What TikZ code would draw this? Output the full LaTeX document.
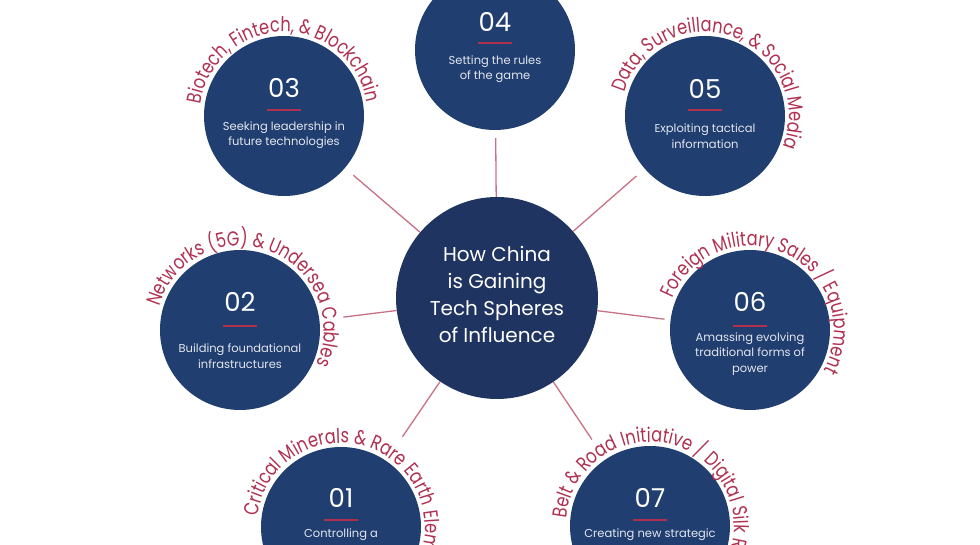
\documentclass[tikz,border=0pt]{standalone}
\usepackage{fontspec}
\setmainfont{Poppins}
\newfontfamily\arcfamily[FakeStretch=0.8]{Poppins}
\usepackage{tikz}
\usetikzlibrary{calc, positioning, decorations.text}
\definecolor{navy}{RGB}{33,62,112}
\definecolor{hubnavy}{RGB}{31,52,96}
\definecolor{rosered}{RGB}{176,48,80}
\definecolor{spokecol}{RGB}{200,112,132}
\definecolor{desccol}{RGB}{226,230,238}
\newcommand{\arcfont}{\color{rosered}\arcfamily\fontsize{20.3}{20}\selectfont}
\tikzstyle{sphere}=[circle, fill=navy, minimum size=160pt, inner sep=0pt]
\tikzstyle{hubc}=[circle, fill=hubnavy, minimum size=202pt, inner sep=0pt]
\tikzstyle{hubtxt}=[text=white, inner sep=0pt, align=center, font=\fontsize{20}{27}\selectfont]
\tikzstyle{numtxt}=[text=white, inner sep=0pt, font=\fontsize{26}{26}\selectfont]
\tikzstyle{desctxt}=[text=desccol, inner sep=0pt, align=center, font=\fontsize{11.5}{15.5}\selectfont]
\tikzstyle{bar}=[fill=rosered, inner sep=0pt, minimum width=34pt, minimum height=2pt]
\tikzstyle{spoke}=[draw=spokecol, line width=1.3pt]
\tikzstyle{arclbl}=[decorate, decoration={text along path, text align=left}]

\begin{document}
\begin{tikzpicture}[x=1pt, y=1pt]
\useasboundingbox (0,0) rectangle (980,545);
\clip (0,0) rectangle (980,545);
% the central hub
\node[hubc] (hub) at (497,247) {};
\node[hubtxt] (title) at ($(hub)+(0,4)$) {How China\\is Gaining\\Tech Spheres\\of Influence};
% the seven spheres
\node[sphere] (s1) at (341,18) {};
\node[sphere] (s2) at (240,215) {};
\node[sphere] (s3) at (284,429) {};
\node[sphere] (s4) at (495,495) {};
\node[sphere] (s5) at (705,429) {};
\node[sphere] (s6) at (750,215) {};
\node[sphere] (s7) at (650,19) {};
% the spokes
\draw[spoke, shorten >=29pt] (hub) -- (s1);
\draw[spoke, shorten >=24pt] (hub) -- (s2);
\draw[spoke, shorten >=11pt] (hub) -- (s3);
\draw[spoke, shorten >=8pt] (hub) -- (s4);
\draw[spoke, shorten >=11pt] (hub) -- (s5);
\draw[spoke, shorten >=6pt] (hub) -- (s6);
\draw[spoke, shorten >=24pt] (hub) -- (s7);
% numbers, bars and texts inside the spheres
\node[numtxt] (n1) at ($(s1)+(0,29)$) {01};
\node[bar] (b1) at ($(s1)+(0,7)$) {};
\node[desctxt] (d1) at ($(s1)+(0,-8)$) {Controlling a};
\node[numtxt] (n2) at ($(s2)+(0,28)$) {02};
\node[bar] (b2) at ($(s2)+(0,4)$) {};
\node[desctxt] (d2) at ($(s2)+(0,-26)$) {Building foundational\\infrastructures};
\node[numtxt] (n3) at ($(s3)+(0,28)$) {03};
\node[bar] (b3) at ($(s3)+(0,6)$) {};
\node[desctxt] (d3) at ($(s3)+(0,-19)$) {Seeking leadership in\\future technologies};
\node[numtxt] (n4) at ($(s4)+(0,28)$) {04};
\node[bar] (b4) at ($(s4)+(0,7)$) {};
\node[desctxt] (d4) at ($(s4)+(0,-19)$) {Setting the rules\\of the game};
\node[numtxt] (n5) at ($(s5)+(0,27)$) {05};
\node[bar] (b5) at ($(s5)+(0,6)$) {};
\node[desctxt] (d5) at ($(s5)+(0,-20)$) {Exploiting tactical\\information};
\node[numtxt] (n6) at ($(s6)+(0,28)$) {06};
\node[bar] (b6) at ($(s6)+(0,4)$) {};
\node[desctxt] (d6) at ($(s6)+(0,-24)$) {Amassing evolving\\traditional forms of\\power};
\node[numtxt] (n7) at ($(s7)+(0,28)$) {07};
\node[bar] (b7) at ($(s7)+(0,6)$) {};
\node[desctxt] (d7) at ($(s7)+(0,-9)$) {Creating new strategic};
% the curved titles
\path[arclbl, decoration={text={|\arcfont|Critical Minerals {\&} Rare Earth Elements}}] ($(s1)+(173:84)$) arc[start angle=173, end angle=-100, radius=84];
\path[arclbl, decoration={text={|\arcfont|Networks (5G) {\&} Undersea Cables}}] ($(s2)+(164:84)$) arc[start angle=164, end angle=-100, radius=84];
\path[arclbl, decoration={text={|\arcfont|Biotech, Fintech, {\&} Blockchain}}] ($(s3)+(172:84)$) arc[start angle=172, end angle=-100, radius=84];
\path[arclbl, decoration={text={|\arcfont|Data, Surveillance, {\&} Social Media}}] ($(s5)+(164:84)$) arc[start angle=164, end angle=-100, radius=84];
\path[arclbl, decoration={text={|\arcfont|Foreign Military Sales / Equipment}}] ($(s6)+(158:84)$) arc[start angle=158, end angle=-100, radius=84];
\path[arclbl, decoration={text={|\arcfont|Belt {\&} Road Initiative / Digital Silk Road}}] ($(s7)+(175:84)$) arc[start angle=175, end angle=-100, radius=84];
\end{tikzpicture}
\end{document}
